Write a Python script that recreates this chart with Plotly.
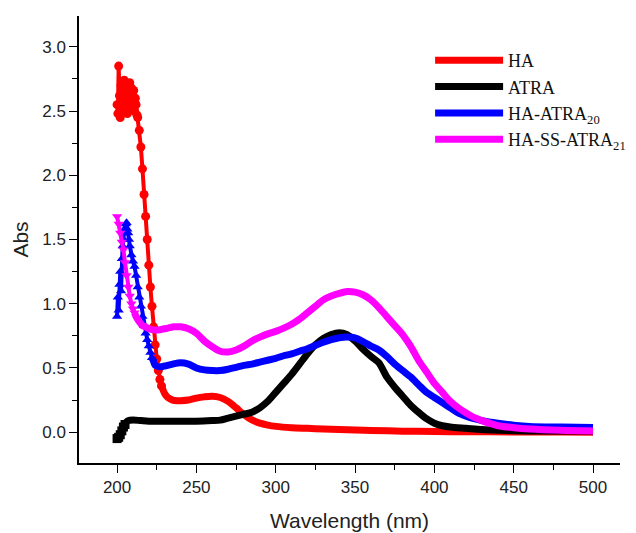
import plotly.graph_objects as go

# ---------------- data ----------------
HA_x = [200, 200.5, 201, 201.5, 202, 202.5, 203, 203.5, 204, 204.5, 205, 205.5, 206, 206.5,
        207, 207.5, 208, 208.5, 209, 209.5, 210, 210.5, 211, 211.5, 212, 212.5, 213,
        214, 215, 216, 217, 218, 219, 220, 221, 222, 223, 224, 225, 226, 227, 228, 230, 232,
        235, 238, 240, 245, 250, 255, 260, 265, 270, 275, 280, 285, 290, 295, 300, 310, 320,
        330, 340, 350, 360, 380, 400, 420, 450, 480, 500]
HA_y = [2.55, 2.48, 2.85, 2.62, 2.45, 2.70, 2.58, 2.66, 2.50, 2.74, 2.62, 2.52, 2.70, 2.48,
        2.66, 2.58, 2.72, 2.52, 2.68, 2.60, 2.55, 2.66, 2.50, 2.60, 2.55, 2.47, 2.45,
        2.35, 2.22, 2.05, 1.85, 1.68, 1.50, 1.30, 1.13, 0.98, 0.82, 0.68, 0.57, 0.48, 0.41, 0.36, 0.30, 0.27,
        0.25, 0.245, 0.245, 0.25, 0.265, 0.275, 0.28, 0.27, 0.24, 0.19, 0.135, 0.095, 0.07, 0.055, 0.045, 0.035, 0.03,
        0.025, 0.02, 0.017, 0.013, 0.008, 0.005, 0.003, 0.002, 0.001, 0.0]
HA_marked = 42

ATRA_x = [200, 201, 202, 203, 204, 205, 206, 207, 210, 215, 220, 230, 240, 250, 260, 265, 270,
          275, 280, 285, 290, 295, 300, 305, 310, 315, 320, 325, 330, 335, 340, 345, 350, 355,
          360, 365, 370, 375, 380, 385, 390, 395, 400, 405, 410, 420, 430, 440, 460, 500]
ATRA_y = [-0.05, -0.04, -0.02, 0.01, 0.04, 0.06, 0.08, 0.09, 0.095, 0.09, 0.085, 0.085, 0.085,
          0.085, 0.09, 0.094, 0.11, 0.125, 0.14, 0.155, 0.19, 0.24, 0.31, 0.38, 0.45, 0.53, 0.61,
          0.68, 0.73, 0.76, 0.775, 0.76, 0.71, 0.645, 0.59, 0.54, 0.43, 0.35, 0.28, 0.21, 0.155,
          0.105, 0.07, 0.05, 0.04, 0.03, 0.02, 0.015, 0.01, 0.01]
ATRA_marked = 6

HAATRA_x = [200, 200.5, 201, 201.5, 202, 202.5, 203, 203.5, 204, 204.5, 205, 205.5, 206, 206.5,
            207, 207.5, 208, 209, 210, 211, 212, 213, 214, 215, 216, 217, 218, 219, 220, 221, 222,
            223, 224, 226, 228, 230, 235, 240, 245, 250, 255, 260, 265, 270, 275, 280, 285, 290,
            295, 300, 305, 310, 315, 320, 325, 330, 335, 340, 345, 350, 355, 360, 365, 370, 375,
            380, 385, 390, 395, 400, 405, 410, 415, 420, 425, 430, 440, 450, 460, 480, 500]
HAATRA_y = [0.90, 1.05, 0.95, 1.15, 1.25, 1.10, 1.35, 1.45, 1.50, 1.58, 1.55, 1.62, 1.63, 1.58,
            1.55, 1.50, 1.45, 1.38, 1.33, 1.29, 1.22, 1.13, 1.05, 0.98, 0.90, 0.83, 0.77, 0.72, 0.67, 0.62, 0.58,
            0.55, 0.52, 0.51, 0.51, 0.515, 0.53, 0.54, 0.53, 0.50, 0.485, 0.48, 0.48, 0.49, 0.505, 0.52, 0.53, 0.545,
            0.56, 0.575, 0.595, 0.61, 0.63, 0.65, 0.675, 0.70, 0.72, 0.735, 0.74, 0.735, 0.705, 0.67, 0.64, 0.59, 0.53,
            0.48, 0.43, 0.37, 0.31, 0.27, 0.23, 0.19, 0.15, 0.125, 0.105, 0.09, 0.07, 0.055, 0.045, 0.04, 0.037]
HAATRA_marked = 31

HASS_x = [200, 201, 202, 203, 204, 205, 206, 207, 208, 209, 210, 211, 212, 214, 216, 218, 220,
          224, 228, 232, 236, 240, 245, 250, 255, 260, 265, 270, 275, 280, 285, 290, 295, 300,
          305, 310, 315, 320, 325, 330, 335, 340, 345, 350, 355, 360, 365, 370, 375, 380, 385,
          390, 395, 400, 405, 410, 415, 420, 425, 430, 435, 440, 450, 460, 480, 500]
HASS_y = [1.68, 1.62, 1.55, 1.48, 1.42, 1.32, 1.22, 1.13, 1.06, 1.00, 0.96, 0.93, 0.90, 0.86,
          0.83, 0.82, 0.805, 0.795, 0.80, 0.81, 0.82, 0.82, 0.805, 0.77, 0.71, 0.665, 0.63, 0.625,
          0.64, 0.67, 0.71, 0.74, 0.765, 0.785, 0.81, 0.84, 0.88, 0.93, 0.98, 1.03, 1.06, 1.08,
          1.095, 1.09, 1.07, 1.03, 0.97, 0.90, 0.83, 0.76, 0.67, 0.56, 0.47, 0.38, 0.31, 0.24,
          0.19, 0.15, 0.115, 0.09, 0.068, 0.05, 0.035, 0.025, 0.015, 0.01]
HASS_marked = 12

series = [
    ("HA", HA_x, HA_y, HA_marked, "#ff0000", "circle"),
    ("ATRA", ATRA_x, ATRA_y, ATRA_marked, "#000000", "square"),
    ("HA-ATRA<sub>20</sub>", HAATRA_x, HAATRA_y, HAATRA_marked, "#0000ff", "triangle-up"),
    ("HA-SS-ATRA<sub>21</sub>", HASS_x, HASS_y, HASS_marked, "#ff00ff", "triangle-down"),
]

fig = go.Figure()
for name, xs, ys, n, col, sym in series:
    fig.add_trace(go.Scatter(
        x=xs[:n], y=ys[:n], mode="lines+markers", showlegend=False,
        line=dict(color=col, width=4),
        marker=dict(color=col, symbol=sym, size=9)))
    fig.add_trace(go.Scatter(
        x=xs[n - 1:], y=ys[n - 1:], mode="lines", name=name,
        line=dict(color=col, width=7, shape="spline", smoothing=0.8), showlegend=True))

axis_common = dict(
    showline=True, linecolor="black", linewidth=1.5, mirror=False,
    ticks="outside", ticklen=8, tickwidth=1.2, tickcolor="black",
    showgrid=False, zeroline=False, automargin=False,
    tickfont=dict(family="Liberation Sans, Arial", size=17, color="#222"),
    title_font=dict(family="Liberation Sans, Arial", size=21, color="#222"),
)

fig.update_xaxes(range=[176, 517], tickvals=[200, 250, 300, 350, 400, 450, 500],
                 minor=dict(ticks="outside", ticklen=5, tickwidth=1.2, tickcolor="black",
                            tickvals=[225, 275, 325, 375, 425, 475]),
                 title_text="Wavelength (nm)", title_standoff=17, **axis_common)
fig.update_yaxes(range=[-0.24, 3.24], tickvals=[0, 0.5, 1.0, 1.5, 2.0, 2.5, 3.0],
                 ticktext=["0.0", "0.5", "1.0", "1.5", "2.0", "2.5", "3.0"],
                 minor=dict(ticks="outside", ticklen=5, tickwidth=1.2, tickcolor="black",
                            tickvals=[-0.25, 0.25, 0.75, 1.25, 1.75, 2.25, 2.75]),
                 title_text="Abs", title_standoff=8, **axis_common)

fig.update_layout(
    width=636, height=533,
    margin=dict(l=71, r=24, t=8, b=78),
    plot_bgcolor="white", paper_bgcolor="white",
    legend=dict(x=0.649, y=0.942, xanchor="left", yanchor="top",
                font=dict(family="Liberation Serif, Times New Roman", size=18, color="#111"),
                bgcolor="rgba(0,0,0,0)", itemwidth=68, tracegroupgap=0),
)

fig.write_html("out.html")
